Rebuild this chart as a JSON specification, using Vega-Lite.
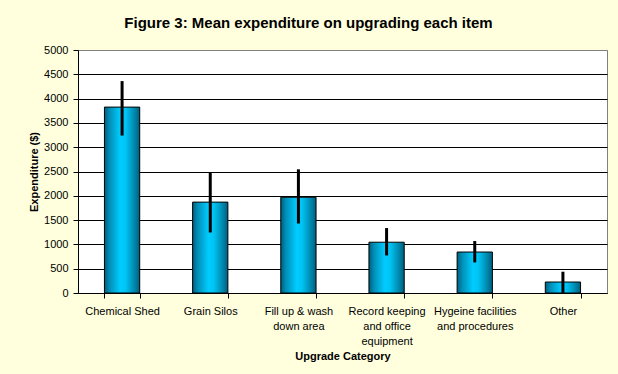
{
  "$schema": "https://vega.github.io/schema/vega-lite/v6.json",
  "autosize": {"type": "none"},
  "width": 529,
  "height": 243,
  "padding": {"left": 78, "top": 50, "right": 11, "bottom": 81},
  "background": "#FFFFDD",
  "title": {
    "text": "Figure 3: Mean expenditure on upgrading each item",
    "font": "Liberation Sans",
    "fontSize": 15,
    "fontWeight": "bold",
    "color": "black",
    "anchor": "middle",
    "dx": -34,
    "offset": 13
  },
  "config": {
    "view": {"stroke": "#808080", "strokeWidth": 1, "fill": "white"},
    "axis": {
      "labelFont": "Liberation Sans",
      "labelFontSize": 11,
      "labelColor": "black",
      "titleFont": "Liberation Sans",
      "titleFontSize": 11,
      "titleFontWeight": "bold",
      "titleColor": "black",
      "domainColor": "black",
      "tickColor": "black",
      "tickSize": 5
    }
  },
  "data": {
    "values": [
      {"category": "Chemical Shed", "mean": 3825, "low": 3240, "high": 4360},
      {"category": "Grain Silos", "mean": 1870, "low": 1245, "high": 2487},
      {"category": "Fill up & wash down area", "mean": 1970, "low": 1430, "high": 2545},
      {"category": "Record keeping and office equipment", "mean": 1045, "low": 773, "high": 1336},
      {"category": "Hygeine facilities and procedures", "mean": 843, "low": 629, "high": 1069},
      {"category": "Other", "mean": 226, "low": 0, "high": 438}
    ]
  },
  "encoding": {
    "x": {
      "field": "category",
      "type": "nominal",
      "sort": null,
      "scale": {"paddingInner": 0.6, "paddingOuter": 0.3},
      "axis": {
        "title": "Upgrade Category",
        "labelAngle": 0,
        "tickBand": "extent",
        "labelPadding": 7,
        "labelLineHeight": 15,
        "labelBaseline": "top",
        "titlePadding": 4,
        "labelExpr": "datum.value == 'Fill up & wash down area' ? ['Fill up & wash', 'down area'] : datum.value == 'Record keeping and office equipment' ? ['Record keeping', 'and office', 'equipment'] : datum.value == 'Hygeine facilities and procedures' ? ['Hygeine facilities', 'and procedures'] : datum.label"
      }
    }
  },
  "layer": [
    {
      "mark": {
        "type": "bar",
        "stroke": "black",
        "strokeWidth": 1,
        "color": {
          "gradient": "linear",
          "x1": 0, "x2": 1, "y1": 0, "y2": 0,
          "stops": [
            {"offset": 0, "color": "#005F7F"},
            {"offset": 0.15, "color": "#0090B8"},
            {"offset": 0.45, "color": "#00CCFF"},
            {"offset": 0.6, "color": "#00C4F4"},
            {"offset": 0.85, "color": "#0088AE"},
            {"offset": 1, "color": "#005E7C"}
          ]
        }
      },
      "encoding": {
        "y": {
          "field": "mean",
          "type": "quantitative",
          "scale": {"domain": [0, 5000], "nice": false},
          "axis": {
            "title": "Expenditure ($)",
            "values": [0, 500, 1000, 1500, 2000, 2500, 3000, 3500, 4000, 4500, 5000],
            "format": "d",
            "labelOverlap": false,
            "labelFlush": false,
            "grid": true,
            "gridColor": {"condition": {"test": "datum.value >= 5000", "value": "#808080"}, "value": "black"},
            "gridOpacity": 1,
            "labelPadding": 5,
            "titlePadding": 4
          }
        }
      }
    },
    {
      "mark": {"type": "rule", "color": "black", "strokeWidth": 3},
      "encoding": {
        "y": {
          "field": "low",
          "type": "quantitative",
          "axis": {
            "title": "Expenditure ($)",
            "values": [0, 500, 1000, 1500, 2000, 2500, 3000, 3500, 4000, 4500, 5000],
            "format": "d",
            "labelOverlap": false,
            "labelFlush": false,
            "grid": true,
            "gridColor": {"condition": {"test": "datum.value >= 5000", "value": "#808080"}, "value": "black"},
            "gridOpacity": 1,
            "labelPadding": 5,
            "titlePadding": 4
          }
        },
        "y2": {"field": "high"}
      }
    }
  ]
}
